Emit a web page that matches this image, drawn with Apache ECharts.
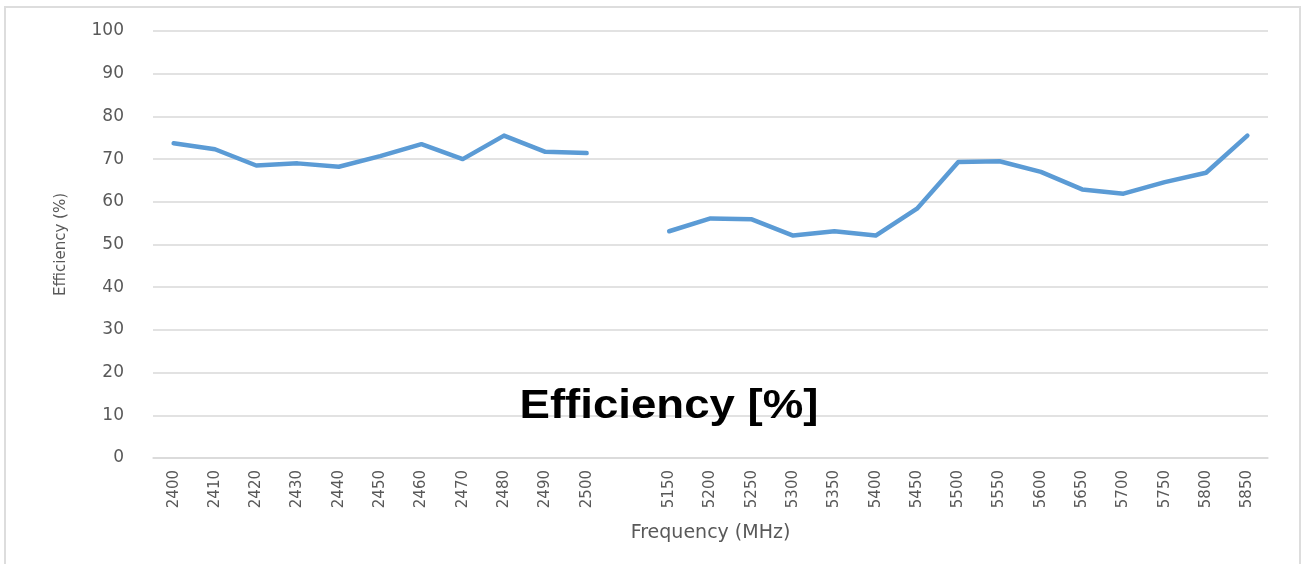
<!DOCTYPE html>
<html>
<head>
<meta charset="utf-8">
<script src="https://cdn.jsdelivr.net/npm/echarts@6/dist/echarts.min.js"></script>
<style>
    html, body { margin: 0; padding: 0; background: #fff; }
    #chart { width: 1307px; height: 564px; }
</style>
</head>
<body>
<div id="chart"></div>
<script>
// 2.4 GHz band, a blank slot, then the 5 GHz band
var band24 = ['2400', '2410', '2420', '2430', '2440', '2450', '2460', '2470', '2480', '2490', '2500'];
var band5 = ['5150', '5200', '5250', '5300', '5350', '5400', '5450', '5500', '5550', '5600', '5650', '5700', '5750', '5800', '5850'];
var eff24 = [73.7, 72.3, 68.5, 69.0, 68.2, 70.7, 73.5, 70.0, 75.5, 71.7, 71.4];
var eff5 = [53.1, 56.1, 55.9, 52.1, 53.1, 52.1, 58.4, 69.3, 69.5, 67.0, 62.9, 61.9, 64.6, 66.8, 75.5];
var yTicks = { min: 0, max: 100, interval: 10 };

var categories = band24.concat(['']).concat(band5);
var values = eff24.concat(['-']).concat(eff5);

var labelColor = '#595959';
var gridColor = '#D9D9D9';

var mychart = echarts.init(document.getElementById('chart'));
var option = {
    animation: false,
    backgroundColor: '#fff',
    grid: {
        left: 153,
        right: 39,
        top: 31,
        bottom: 106
    },
    xAxis: {
        type: 'category',
        data: categories,
        boundaryGap: true,
        name: 'Frequency (MHz)',
        nameLocation: 'middle',
        nameGap: 66,
        nameTextStyle: { color: labelColor, fontSize: 19, fontFamily: 'DejaVu Sans' },
        axisLine: { lineStyle: { color: gridColor, width: 1.5 } },
        axisTick: { show: false },
        axisLabel: {
            rotate: 90,
            interval: 0,
            margin: 12,
            color: labelColor,
            fontSize: 15,
            fontFamily: 'DejaVu Sans'
        }
    },
    yAxis: {
        type: 'value',
        min: yTicks.min,
        max: yTicks.max,
        interval: yTicks.interval,
        name: 'Efficiency (%)',
        nameLocation: 'middle',
        nameGap: 84,
        nameTextStyle: { color: labelColor, fontSize: 15, fontFamily: 'DejaVu Sans' },
        axisLine: { show: false },
        axisTick: { show: false },
        axisLabel: { margin: 29, color: labelColor, fontSize: 17, fontFamily: 'DejaVu Sans' },
        splitLine: { lineStyle: { color: gridColor, width: 1.5 } }
    },
    series: [
        {
            name: 'Efficiency',
            type: 'line',
            data: values,
            showSymbol: false,
            connectNulls: false,
            lineStyle: { color: '#5B9BD5', width: 4.5, cap: 'round', join: 'round' },
            itemStyle: { color: '#5B9BD5' }
        }
    ],
    graphic: [
        {
            type: 'rect',
            silent: true,
            z: -1,
            shape: { x: 5, y: 7, width: 1295, height: 620 },
            style: { fill: 'none', stroke: '#DDDDDD', lineWidth: 2 }
        },
        {
            type: 'text',
            silent: true,
            z: 100,
            x: 669,
            y: 407,
            scaleX: 1.2,
            scaleY: 1.05,
            style: {
                text: 'Efficiency [%]',
                fill: '#000',
                fontSize: 38,
                fontWeight: 'bold',
                fontFamily: 'Liberation Sans',
                align: 'center',
                verticalAlign: 'middle'
            }
        }
    ]
};
mychart.setOption(option);
</script>
</body>
</html>
